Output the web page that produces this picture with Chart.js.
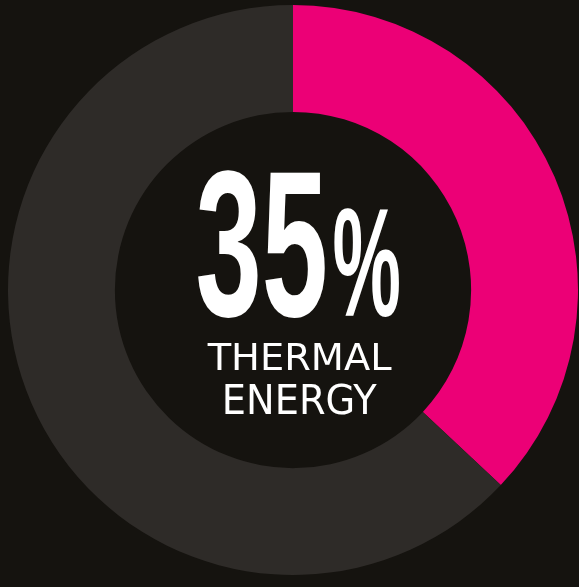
<!DOCTYPE html>
<html>
<head>
<meta charset="utf-8">
<script src="https://cdn.jsdelivr.net/npm/chart.js@4.4.0/dist/chart.umd.min.js"></script>
<style>
  html, body { margin: 0; padding: 0; background: #15130f; overflow: hidden; }
  #wrap { position: absolute; left: 8px; top: 5px; width: 570px; height: 570px; }
</style>
</head>
<body>
<div id="wrap"><canvas id="ourChart" width="570" height="570"></canvas></div>
<script>
var labels = ['Thermal energy', 'Other'];
var values = [37, 63];
var colors = ['#ec0076', '#2e2b28'];
var bigLabel = '35';
var captionLines = ['THERMAL', 'ENERGY'];

// draw text so its ink box fills the given box
function fitText(ctx, text, font, left, top, width, height) {
    ctx.font = font;
    var m = ctx.measureText(text);
    var w = m.actualBoundingBoxLeft + m.actualBoundingBoxRight;
    var h = m.actualBoundingBoxAscent + m.actualBoundingBoxDescent;
    ctx.save();
    ctx.translate(left, top);
    ctx.scale(width / w, height / h);
    ctx.textBaseline = 'alphabetic';
    ctx.textAlign = 'left';
    ctx.fillText(text, m.actualBoundingBoxLeft, m.actualBoundingBoxAscent);
    ctx.restore();
}

var centerText = {
    id: 'centerText',
    afterDraw: function (chart) {
        var ctx = chart.ctx;
        var a = chart.chartArea;
        var cx = (a.left + a.right) / 2;
        var cy = (a.top + a.bottom) / 2;
        ctx.fillStyle = '#ffffff';
        fitText(ctx, bigLabel, 'bold 200px "Liberation Sans"', cx - 95, cy - 120, 127, 148);
        fitText(ctx, '%', 'bold 200px "Liberation Sans"', cx + 41, cy - 81, 65, 109);
        fitText(ctx, captionLines[0], '60px "DejaVu Sans"', cx - 86, cy + 52, 185, 29);
        fitText(ctx, captionLines[1], '60px "DejaVu Sans"', cx - 68, cy + 94, 152, 31);
    }
};

var chartElement = new Chart(document.getElementById('ourChart'), {
    type: 'doughnut',
    data: {
        labels: labels,
        datasets: [
            {
                data: values,
                backgroundColor: colors,
                borderWidth: 0
            }
        ]
    },
    options: {
        responsive: false,
        animation: false,
        cutout: '62.5%',
        plugins: {
            legend: { display: false },
            tooltip: { enabled: false }
        }
    },
    plugins: [centerText]
});
</script>
</body>
</html>
